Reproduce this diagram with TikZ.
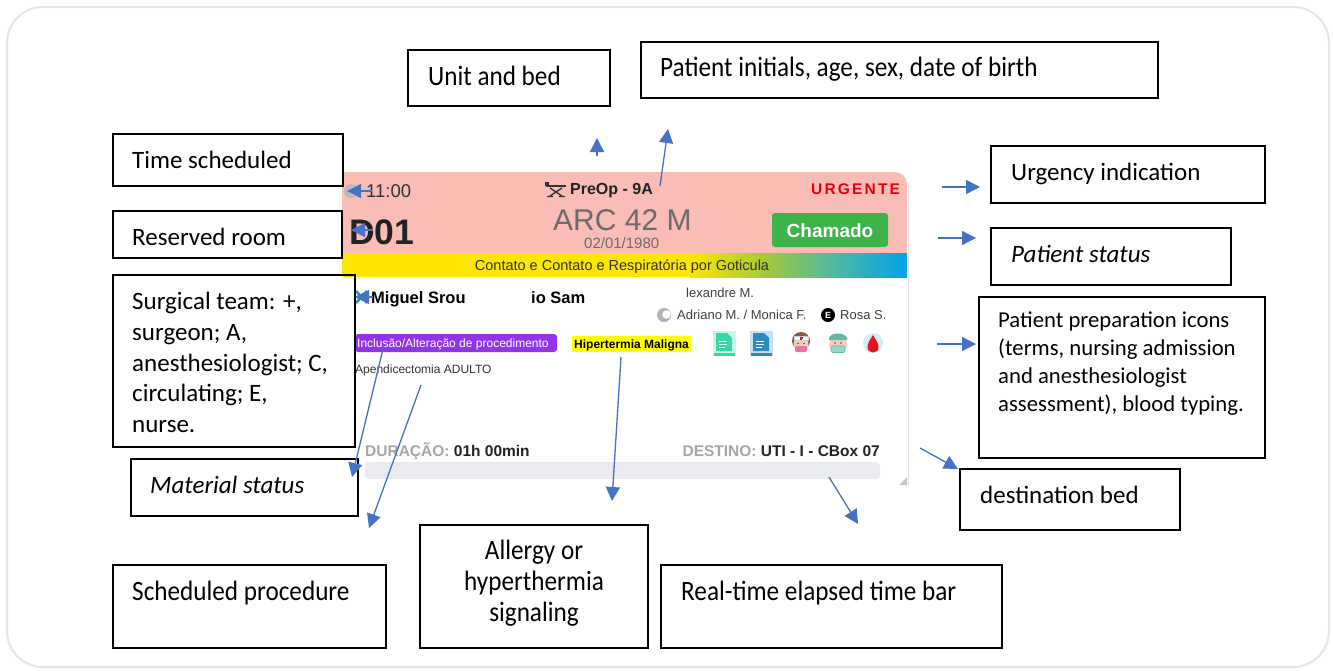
\documentclass[tikz,border=0pt]{standalone}
\usepackage{fontspec}
\setmainfont{Carlito}
\newfontfamily\condfont[FakeStretch=0.9]{Carlito}
\newfontfamily\cardfont{Liberation Sans}
\newfontfamily\urgfont[LetterSpace=14]{Liberation Sans}
\usetikzlibrary{arrows.meta}
\definecolor{arrowblue}{HTML}{4472C4}
\definecolor{framegray}{HTML}{E6E6E6}
\definecolor{cardpink}{HTML}{F9BDB5}
\definecolor{stripyellow}{HTML}{FFE600}
\definecolor{stripgreen}{HTML}{A5C93A}
\definecolor{stripteal}{HTML}{4DB8A5}
\definecolor{stripblue}{HTML}{00A3E8}
\definecolor{btngreen}{HTML}{3CB44A}
\definecolor{tagpurple}{HTML}{9333EA}
\definecolor{hiyellow}{HTML}{FFFF00}
\definecolor{urgred}{HTML}{E8000B}
\definecolor{darktext}{HTML}{222222}
\definecolor{midtext}{HTML}{333333}
\definecolor{arcgray}{HTML}{6B6B6B}
\definecolor{durgray}{HTML}{A6A6A6}
\definecolor{barbg}{HTML}{E9EBEE}
\definecolor{xteal}{HTML}{1FA2A8}
\definecolor{docgreen}{HTML}{34D9A5}
\definecolor{docgreenlt}{HTML}{C8F7E8}
\definecolor{docblue}{HTML}{2E8BC0}
\definecolor{docbluelt}{HTML}{C4E2F2}
\definecolor{skin}{HTML}{F5D0B5}
\definecolor{hair}{HTML}{8B5A3C}
\definecolor{maskpink}{HTML}{F06EAA}
\definecolor{capteal}{HTML}{5FB8A8}
\definecolor{maskteal}{HTML}{9AD8CF}
\definecolor{dropbg}{HTML}{D6ECFA}
\definecolor{dropred}{HTML}{E8141B}
\begin{document}
\begin{tikzpicture}[x=1pt,y=-1pt,
  box/.style={draw=black, line width=1.1pt, anchor=north west, inner sep=0pt, outer sep=0pt},
  lbl/.style={anchor=base west, inner sep=0pt, font=\fontsize{25}{30.6}\selectfont},
  clbl/.style={anchor=base west, inner sep=0pt, font=\condfont\fontsize{28}{31}\selectfont},
  arr/.style={draw=arrowblue, line width=1.3pt, -{Triangle[length=14pt,width=14pt]}},
  cardtxt/.style={inner sep=0pt, anchor=base west},
]
\useasboundingbox (0,0) rectangle (1333,670);
\fill[white] (0,0) rectangle (1333,670);
\draw[framegray, line width=2pt, rounded corners=36pt] (7,7) rectangle (1329,667);

% ---------------- card (screenshot) ----------------
\begin{scope}
  \clip (342,160) rectangle (912,490);
  \fill[cardpink, rounded corners=12pt] (320,172) rectangle (907,253);
  \fill[cardpink] (320,230) rectangle (907,253);
  \fill[gray!55] (351,191) circle (7);
  \fill[cardpink] (354,191) circle (4.5);
\end{scope}
\draw[gray!22, line width=1.5pt] (908.5,182) -- (908.5,485);
\fill[gray!45] (907,477) -- (907,485) -- (899,485) -- cycle;

% strip
\fill[stripyellow] (342,253) rectangle (690,277);
\shade[left color=stripyellow, right color=stripgreen] (689.5,253) rectangle (765,277);
\shade[left color=stripgreen, right color=stripteal] (764.5,253) rectangle (835,277);
\shade[left color=stripteal, right color=stripblue] (834.5,253) rectangle (907,277);

% top row
\node[cardtxt, text=midtext, font=\cardfont\fontsize{18.5}{18.5}\selectfont] (time) at (366,197) {11:00};
\draw[black!80, line width=1.6pt] (546,186) -- (566,186);
\fill[black!80] (545,182) rectangle (549,186);
\draw[black!80, line width=1.3pt] (550,188) -- (562,196) (562,188) -- (550,196)
   (547,196.5) -- (553,196.5) (559,196.5) -- (565,196.5);
\node[cardtxt, text=darktext, font=\cardfont\bfseries\fontsize{16}{16}\selectfont] (unit) at (570,194) {PreOp - 9A};
\node[cardtxt, text=urgred, font=\urgfont\bfseries\fontsize{15.5}{15.5}\selectfont] (urg) at (811,194.5) {URGENTE};

% second row
\node[cardtxt, text=darktext, font=\cardfont\bfseries\fontsize{35.5}{35.5}\selectfont] (room) at (349,244.5) {D01};
\node[cardtxt, text=arcgray, font=\cardfont\fontsize{30}{30}\selectfont] (arc) at (553,230.5) {ARC 42 M};
\node[cardtxt, text=arcgray, font=\cardfont\fontsize{15}{15}\selectfont] (dob) at (584,248.5) {02/01/1980};
\fill[btngreen, rounded corners=3pt] (772,213) rectangle (888,247);
\node[inner sep=0pt, text=white, font=\cardfont\bfseries\fontsize{19}{19}\selectfont] (status) at (830,231) {Chamado};

% strip text
\node[inner sep=0pt, anchor=base, text=midtext, font=\cardfont\fontsize{14.5}{14.5}\selectfont] (iso) at (622,270.2) {Contato e Contato e Respiratória por Goticula};

% team
\draw[xteal, line width=2.6pt] (356,291) -- (367,303) (367,291) -- (356,303);
\node[cardtxt, text=black, font=\cardfont\bfseries\fontsize{16.5}{16.5}\selectfont] (sur1) at (371,303) {Miguel Srou};
\node[cardtxt, text=black, font=\cardfont\bfseries\fontsize{16.5}{16.5}\selectfont] (sur2) at (531,303) {io Sam};
\node[cardtxt, text=black!75, font=\cardfont\fontsize{13}{13}\selectfont] (anes) at (686,297.7) {lexandre M.};
\fill[gray!60] (664,315) circle (7);
\fill[white] (666.5,314.5) circle (4.3);
\node[cardtxt, text=black!75, font=\cardfont\fontsize{13}{13}\selectfont] (circ) at (677,319.5) {Adriano M. / Monica F.};
\fill[black] (828,315) circle (7);
\node[inner sep=0pt, text=white, font=\cardfont\bfseries\fontsize{9}{9}\selectfont] (eic) at (828,315) {E};
\node[cardtxt, text=black!75, font=\cardfont\fontsize{13}{13}\selectfont] (nurse) at (840,319.5) {Rosa S.};

% tags
\fill[tagpurple, rounded corners=3pt] (355,334) rectangle (557,352);
\node[cardtxt, text=white, font=\cardfont\fontsize{12}{12}\selectfont] (tag) at (357,347.5) {Inclusão/Alteração de procedimento};
\fill[hiyellow] (572,336) rectangle (691,352);
\node[cardtxt, text=black, font=\cardfont\bfseries\fontsize{12}{12}\selectfont] (hyper) at (574,348.3) {Hipertermia Maligna};
\node[cardtxt, text=midtext, font=\cardfont\fontsize{12}{12}\selectfont] (proc) at (355,373) {Apendicectomia ADULTO};

% preparation icons
\fill[docgreenlt] (713,331) rectangle (736,356);
\fill[docgreen] (716,333) -- (727,333) -- (732,338) -- (732,351) -- (716,351) -- cycle;
\fill[docgreen] (714,353) rectangle (735,355.5);
\draw[white, line width=0.8pt] (719,341) -- (727,341) (719,344) -- (727,344) (719,347) -- (725,347);
\fill[docbluelt] (750,331) rectangle (773,356);
\fill[docblue] (753,333) -- (764,333) -- (769,338) -- (769,351) -- (753,351) -- cycle;
\fill[docblue] (751,353) rectangle (772,355.5);
\draw[white, line width=0.8pt] (756,341) -- (764,341) (756,344) -- (764,344) (756,347) -- (762,347);
% nurse
\fill[hair] (801,341) circle (9);
\fill[skin] (801,344.5) circle (7.5);
\fill[white, draw=gray!40, line width=0.5pt] (794,336) rectangle (808,340);
\fill[dropred] (800.2,336.5) rectangle (801.8,339.5);
\fill[dropred] (799.5,337.2) rectangle (802.5,338.8);
\fill[maskpink, rounded corners=2pt] (795,346) rectangle (807,352);
\fill[black!70] (798,343.5) circle (0.9) (804,343.5) circle (0.9);
% doctor
\fill[skin] (838,344) circle (9);
\fill[capteal] (829,340) -- (829,338) .. controls (831,332) and (845,332) .. (847,338) -- (847,340) -- cycle;
\fill[maskteal, draw=capteal, line width=0.6pt, rounded corners=2pt] (831,346) rectangle (845,352.5);
\fill[black!70] (835,343) circle (0.9) (841,343) circle (0.9);
% blood
\fill[dropbg] (873,343) circle (10);
\fill[dropred] (873,335) .. controls (876,340) and (878.5,343) .. (878.5,347)
   .. controls (878.5,350.5) and (876,352.5) .. (873,352.5)
   .. controls (870,352.5) and (867.5,350.5) .. (867.5,347)
   .. controls (867.5,343) and (870,340) .. (873,335) -- cycle;

% bottom row
\node[cardtxt, text=darktext, font=\cardfont\bfseries\fontsize{15.5}{15.5}\selectfont] (dur) at (365,456.5) {\textcolor{durgray}{DURAÇÃO:} 01h 00min};
\node[inner sep=0pt, anchor=base east, text=darktext, font=\cardfont\bfseries\fontsize{15.5}{15.5}\selectfont] (dest) at (880,456.5) {\textcolor{durgray}{DESTINO:} UTI - I - CBox 07};
\fill[barbg, rounded corners=4pt] (365,462) rectangle (880,479);
\node[inner sep=0pt] (bar) at (622,470.5) {};

% ---------------- annotation boxes ----------------
\node[box, minimum width=202pt, minimum height=56pt] (bUnit) at (408,50) {};
\node[clbl] (tUnit) at (428,85) {Unit and bed};
\node[box, minimum width=517pt, minimum height=56pt] (bInit) at (641,42) {};
\node[clbl] (tInit) at (660,76) {Patient initials, age, sex, date of birth};
\node[box, minimum width=230pt, minimum height=52pt] (bTime) at (113,134) {};
\node[lbl] (tTime) at (132,168) {Time scheduled};
\node[box, minimum width=229pt, minimum height=47pt] (bRoom) at (113,211) {};
\node[lbl] (tRoom) at (132,245) {Reserved room};
\node[box, minimum width=242pt, minimum height=172pt] (bTeam) at (113,275) {};
\node[lbl, anchor=north west, align=left] (tTeam) at (132,292.3) {Surgical team: +,\\surgeon; A,\\anesthesiologist; C,\\circulating; E,\\nurse.};
\node[box, minimum width=227pt, minimum height=57pt] (bMat) at (131,459) {};
\node[lbl, font=\itshape\fontsize{25}{30.6}\selectfont] (tMat) at (150,493) {Material status};
\node[box, minimum width=273pt, minimum height=83pt] (bSched) at (113,565) {};
\node[clbl] (tSched) at (132,600) {Scheduled procedure};
\node[box, minimum width=228pt, minimum height=123pt] (bAll) at (420,525) {};
\node[clbl, anchor=north, align=center] (tAll) at (534,540) {Allergy or\\hyperthermia\\signaling};
\node[box, minimum width=341pt, minimum height=83pt] (bReal) at (661,565) {};
\node[clbl] (tReal) at (681,600) {Real-time elapsed time bar};
\node[box, minimum width=274pt, minimum height=57pt] (bUrg) at (991,146) {};
\node[lbl] (tUrg) at (1011,180) {Urgency indication};
\node[box, minimum width=240pt, minimum height=57pt] (bStat) at (991,228) {};
\node[lbl, font=\itshape\fontsize{25}{30.6}\selectfont] (tStat) at (1011,262) {Patient status};
\node[box, minimum width=286pt, minimum height=161pt] (bPrep) at (979,297) {};
\node[lbl, anchor=north west, align=left, font=\fontsize{22.7}{27.7}\selectfont] (tPrep) at (998,312) {Patient preparation icons\\(terms, nursing admission\\and anesthesiologist\\assessment), blood typing.};
\node[box, minimum width=220pt, minimum height=61pt] (bDest) at (960,469) {};
\node[lbl] (tDest) at (980,503) {destination bed};

% ---------------- arrows ----------------
\coordinate (a1s) at (597,156);  \coordinate (a1e) at (597,138);
\coordinate (a2s) at (660,186);  \coordinate (a2e) at (668,129);
\coordinate (a3s) at (372,191);  \coordinate (a3e) at (347,191);
\coordinate (a4s) at (373,230);  \coordinate (a4e) at (351,230);
\coordinate (a5s) at (373,297);  \coordinate (a5e) at (355,297);
\coordinate (a6s) at (384,345);  \coordinate (a6e) at (352,477);
\coordinate (a7s) at (421,385);  \coordinate (a7e) at (369,528);
\coordinate (a8s) at (621,357);  \coordinate (a8e) at (612,501);
\coordinate (a9s) at (829,477);  \coordinate (a9e) at (858,524);
\coordinate (a10s) at (920,448); \coordinate (a10e) at (958,469);
\coordinate (a11s) at (937,344); \coordinate (a11e) at (976,344);
\coordinate (a12s) at (938,238); \coordinate (a12e) at (976,238);
\coordinate (a13s) at (942,187); \coordinate (a13e) at (980,187);
\foreach \i in {1,...,13} \draw[arr] (a\i s) -- (a\i e);
\end{tikzpicture}
\end{document}
